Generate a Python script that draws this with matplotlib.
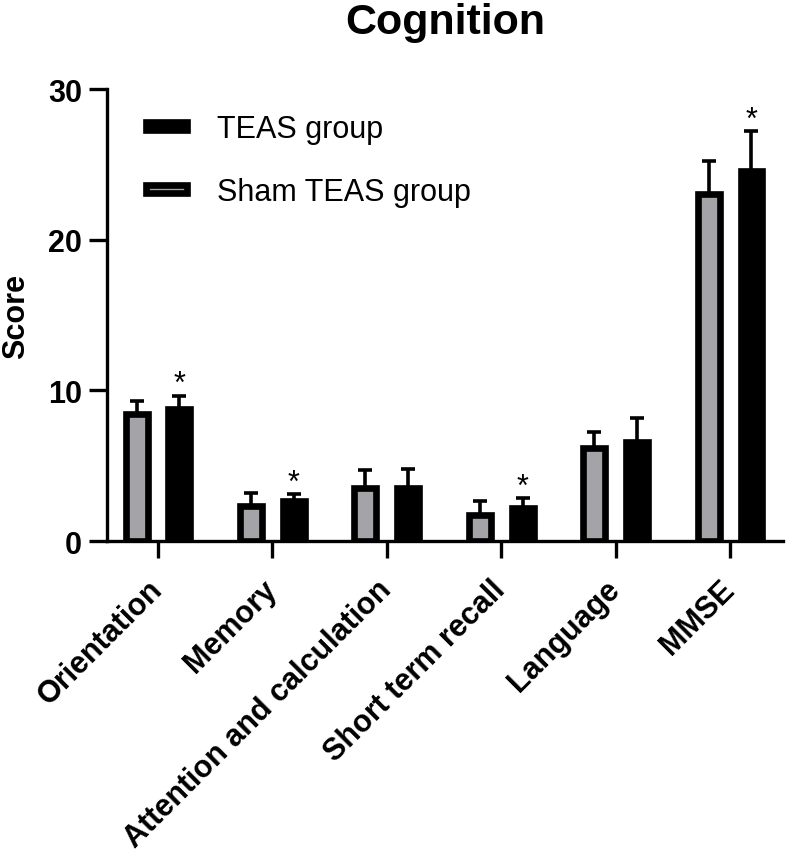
import matplotlib
matplotlib.use("Agg")
import matplotlib.pyplot as plt
import numpy as np

categories = ["Orientation", "Memory", "Attention and calculation",
              "Short term recall", "Language", "MMSE"]
sham_mean = [8.4, 2.3, 3.5, 1.75, 6.15, 23.0]
sham_sd = [0.87, 0.86, 1.23, 0.88, 1.06, 2.25]
teas_mean = [8.76, 2.66, 3.52, 2.17, 6.55, 24.57]
teas_sd = [0.89, 0.46, 1.26, 0.69, 1.59, 2.63]
significant = [True, True, False, True, False, True]
yticks = [0, 10, 20, 30]

plt.rcParams['font.family'] = ['Liberation Sans', 'DejaVu Sans']

fig = plt.figure(figsize=(7.87, 8.54), dpi=100)
ax = fig.add_axes([0.1360, 0.3653, 0.859, 0.5293])

x = np.arange(len(categories))
off = 0.187
w = 0.192
lw = 4.8
grey = '#a3a3a8'

ax.errorbar(x - off, sham_mean, yerr=[np.zeros(len(x)), sham_sd], fmt='none',
            ecolor='black', elinewidth=2.6, capsize=4.8, capthick=2.6, zorder=1)
ax.errorbar(x + off, teas_mean, yerr=[np.zeros(len(x)), teas_sd], fmt='none',
            ecolor='black', elinewidth=2.6, capsize=4.8, capthick=2.6, zorder=1)
b_sham = ax.bar(x - off, sham_mean, width=w, color=grey, edgecolor='black',
                linewidth=lw, zorder=2, label='Sham TEAS group')
b_teas = ax.bar(x + off, teas_mean, width=w, color='black', edgecolor='black',
                linewidth=lw, zorder=2, label='TEAS group')

for xi, m, s, sig in zip(x + off, teas_mean, teas_sd, significant):
    if sig:
        ax.annotate('*', xy=(xi, m + s), xytext=(0, -2.5), textcoords='offset points',
                    ha='center', va='bottom', fontsize=22)

ax.set_xlim(-0.446, 5.463)
ax.set_ylim(0, 30)
ax.set_yticks(yticks)
ax.set_yticklabels([str(t) for t in yticks], fontsize=22, fontweight='bold')
ax.set_xticks(x)
ax.set_xticklabels(categories, fontsize=22, fontweight='bold', rotation=45,
                   ha='right', va='center', rotation_mode='anchor')
ax.tick_params(axis='y', length=13, width=2.4, pad=5)
ax.tick_params(axis='x', length=12, width=2.4, pad=19.5)
for sp in ['top', 'right']:
    ax.spines[sp].set_visible(False)
for sp in ['left', 'bottom']:
    ax.spines[sp].set_linewidth(2.4)

ax.set_ylabel('Score', fontsize=22, fontweight='bold', labelpad=12)
ax.set_title('Cognition', fontsize=31, fontweight='bold', pad=40)

ax.legend([b_teas, b_sham], ['TEAS group', 'Sham TEAS group'],
          loc='upper left', bbox_to_anchor=(0.058, 0.944), frameon=False,
          fontsize=22, borderpad=0, borderaxespad=0, handlelength=1.35,
          handleheight=0.03, handletextpad=0.96, labelspacing=1.08)

fig.savefig('out.png', dpi=100)
